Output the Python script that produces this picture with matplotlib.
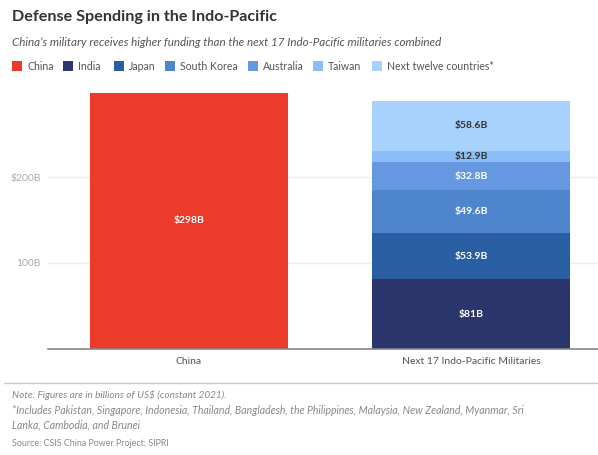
import matplotlib
matplotlib.use("Agg")
import matplotlib.pyplot as plt
from matplotlib.patches import Rectangle
from matplotlib.lines import Line2D

plt.rcParams['font.family'] = ['Lato', 'DejaVu Sans']

# Data (billions of US$, constant 2021)
categories = ["China", "Next 17 Indo-Pacific Militaries"]
china_value = 298
series_names = ["India", "Japan", "South Korea", "Australia", "Taiwan", "Next twelve countries*"]
series_values = [81, 53.9, 49.6, 32.8, 12.9, 58.6]
series_labels = ["$81B", "$53.9B", "$49.6B", "$32.8B", "$12.9B", "$58.6B"]
china_label = "$298B"
tick_values = [100, 200]
tick_labels = ["100B", "$200B"]

china_color = "#EC3A2B"
series_colors = ["#2B366C", "#2A5EA3", "#4F85CC", "#6598E0", "#8BBDF8", "#A7D2FE"]
label_colors = ["white", "white", "white", "white", "#333333", "#333333"]

W, H = 598, 455
fig = plt.figure(figsize=(W / 100, H / 100), dpi=100)
fig.patch.set_facecolor("white")

def fx(px):
    return px / W

def fy(py):
    return 1 - py / H

# Plot area
ax_left, ax_right, ax_bottom, ax_top = 48, 598, 349, 91
ax = fig.add_axes([fx(ax_left), fy(ax_bottom), fx(ax_right - ax_left), (ax_bottom - ax_top) / H])
ax.set_xlim(-0.5, 1.45)
ax.set_ylim(0, 300)
bar_w = 0.70

ax.bar(0, china_value, width=bar_w, color=china_color, zorder=2)
ax.text(0, china_value / 2, china_label, ha="center", va="center",
        color="white", fontsize=7.5, fontweight="bold", zorder=3)

bottom = 0
for name, val, col, lab, lc in zip(series_names, series_values, series_colors, series_labels, label_colors):
    ax.bar(1, val, width=bar_w, bottom=bottom, color=col, zorder=2)
    ax.text(1, bottom + val / 2, lab, ha="center", va="center",
            color=lc, fontsize=7.5, fontweight="bold", zorder=3)
    bottom += val

ax.set_yticks(tick_values)
ax.set_yticklabels(tick_labels)
ax.yaxis.grid(True, color="#EEEEEE", linewidth=1, zorder=0)
ax.tick_params(axis="y", length=0, pad=5, labelsize=7.5, labelcolor="#AAAAAA")
ax.set_xticks([0, 1])
ax.set_xticklabels(categories)
ax.tick_params(axis="x", length=0, pad=6, labelsize=7.5, labelcolor="#555555")
for s in ["top", "right", "left"]:
    ax.spines[s].set_visible(False)
ax.spines["bottom"].set_color("#888888")
ax.spines["bottom"].set_linewidth(1.2)
ax.set_axisbelow(True)

# Title and subtitle
fig.text(fx(12), fy(17), "Defense Spending in the Indo-Pacific", ha="left", va="center",
         fontsize=11.6, fontweight="bold", color="#333333")
fig.text(fx(12), fy(42), "China\u2019s military receives higher funding than the next 17 Indo-Pacific militaries combined",
         ha="left", va="center", fontsize=8.4, style="italic", color="#555555")

# Legend
legend_names = ["China"] + series_names
legend_colors = [china_color] + series_colors
legend_x = [12, 63, 114, 165, 248, 313, 372]
ly = 66
for name, col, x in zip(legend_names, legend_colors, legend_x):
    fig.patches.append(Rectangle((fx(x), fy(ly + 5)), fx(10), 10 / H, transform=fig.transFigure,
                                 facecolor=col, edgecolor="none"))
    fig.text(fx(x + 15), fy(ly), name, ha="left", va="center", fontsize=7.6, color="#555555")

# Footer
fig.lines.append(Line2D([fx(4), 1], [fy(383), fy(383)], transform=fig.transFigure,
                        color="#CCCCCC", linewidth=1))
fig.text(fx(12), fy(395), "Note: Figures are in billions of US$ (constant 2021).",
         ha="left", va="center", fontsize=7.2, style="italic", color="#888888")
fig.text(fx(12), fy(411), "*Includes Pakistan, Singapore, Indonesia, Thailand, Bangladesh, the Philippines, Malaysia, New Zealand, Myanmar, Sri",
         ha="left", va="center", fontsize=7.6, style="italic", color="#888888")
fig.text(fx(12), fy(425), "Lanka, Cambodia, and Brunei",
         ha="left", va="center", fontsize=7.6, style="italic", color="#888888")
fig.text(fx(12), fy(443), "Source: CSIS China Power Project; SIPRI",
         ha="left", va="center", fontsize=6.4, color="#888888")

fig.savefig("out.png", dpi=100, facecolor="white")
